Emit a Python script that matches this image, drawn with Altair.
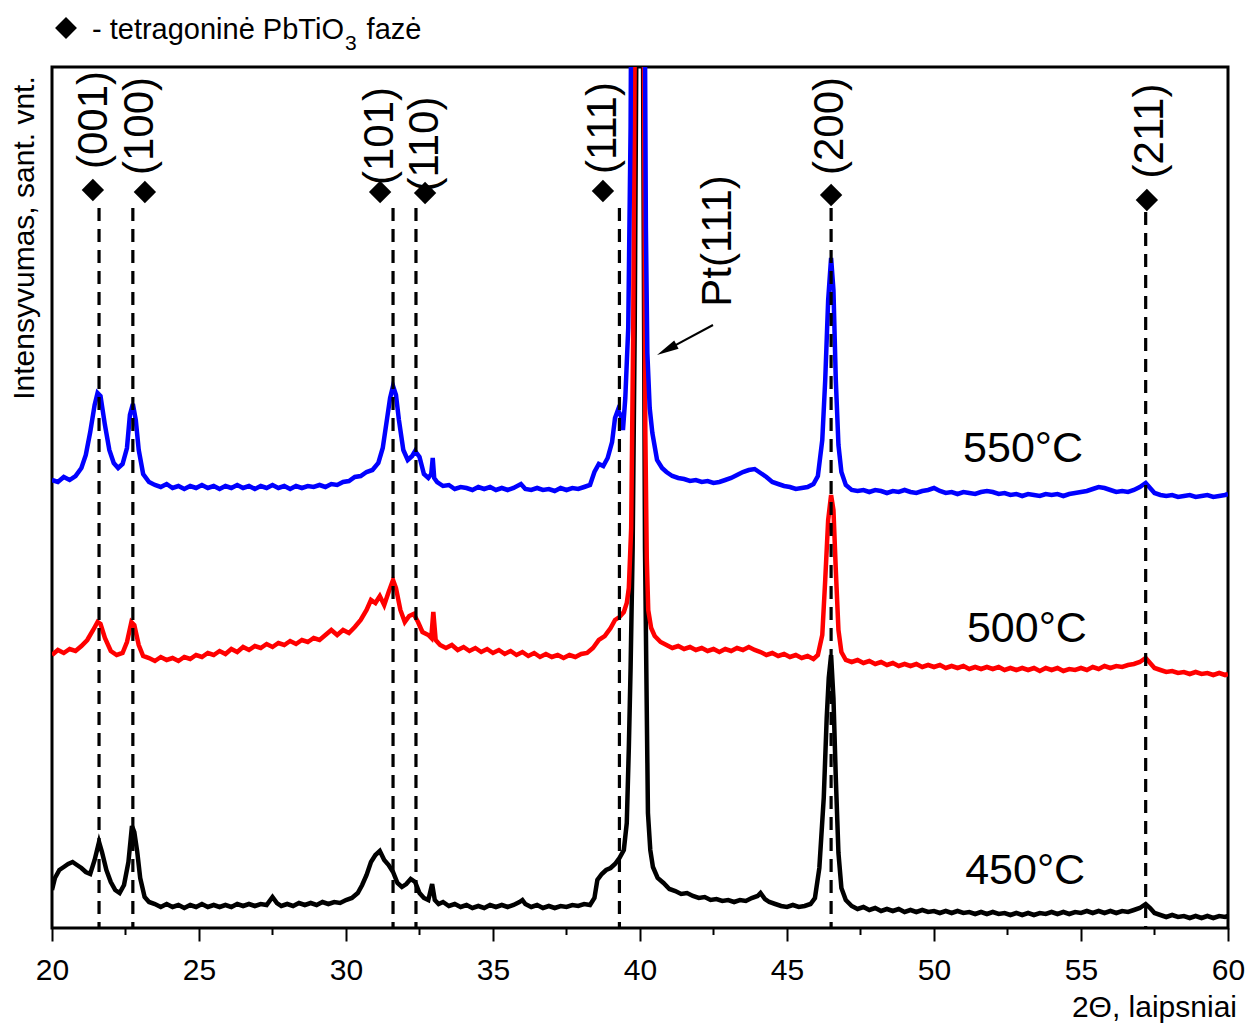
import altair as alt
import pandas as pd

# ---- XRD patterns: (2theta, intensity in arbitrary units) ----
xrd_550 = [(20.0,448),(20.2,446),(20.4,451),(20.6,448),(20.8,452),(21.0,460),(21.15,473),(21.3,496),(21.45,523),(21.55,535),(21.65,532),(21.8,503),(21.95,478),(22.1,465),(22.25,460),(22.4,464),(22.55,480),(22.65,513),(22.75,524),(22.85,508),(22.95,478),(23.1,454),(23.3,446),(23.5,443),(23.7,441),(23.9,444),(24.1,440),(24.3,442),(24.5,439),(24.7,442),(24.9,440),(25.1,443),(25.3,440),(25.5,442),(25.7,439),(25.9,442),(26.1,440),(26.3,443),(26.5,440),(26.7,442),(26.9,439),(27.1,442),(27.3,440),(27.5,443),(27.7,440),(27.9,442),(28.1,439),(28.3,442),(28.5,440),(28.7,442),(28.9,441),(29.1,443),(29.3,441),(29.5,444),(29.7,443),(29.9,446),(30.1,447),(30.3,451),(30.5,452),(30.7,456),(30.9,458),(31.1,465),(31.25,480),(31.4,510),(31.5,530),(31.6,542),(31.7,533),(31.8,508),(31.95,478),(32.1,468),(32.25,472),(32.35,477),(32.5,471),(32.65,454),(32.8,450),(32.9,454),(32.95,470),(33.0,450),(33.1,446),(33.3,442),(33.5,443),(33.7,439),(33.9,441),(34.1,440),(34.3,438),(34.5,441),(34.7,439),(34.9,441),(35.1,438),(35.3,440),(35.5,438),(35.7,440),(35.95,444),(36.1,439),(36.3,438),(36.5,440),(36.7,438),(36.9,439),(37.1,437),(37.3,440),(37.5,438),(37.7,440),(37.9,439),(38.1,441),(38.3,443),(38.45,456),(38.6,464),(38.75,462),(38.9,470),(39.05,486),(39.15,510),(39.25,518),(39.35,512),(39.42,498),(39.5,530),(39.6,600),(39.68,800),(39.75,1200),(39.85,1700),(40.0,1900),(40.1,1500),(40.15,1000),(40.2,700),(40.25,575),(40.33,520),(40.42,495),(40.58,468),(40.75,460),(40.9,456),(41.1,452),(41.3,450),(41.5,449),(41.7,447),(41.9,448),(42.1,446),(42.3,447),(42.5,445),(42.7,446),(42.9,448),(43.1,450),(43.3,453),(43.5,456),(43.7,458),(43.9,459),(44.1,455),(44.3,451),(44.5,446),(44.7,444),(44.9,442),(45.1,441),(45.3,439),(45.5,440),(45.7,441),(45.9,444),(46.05,452),(46.2,488),(46.3,548),(46.4,628),(46.5,670),(46.58,638),(46.66,548),(46.75,483),(46.85,456),(47.0,443),(47.2,438),(47.4,437),(47.6,438),(47.8,436),(48.0,438),(48.2,437),(48.4,435),(48.6,437),(48.8,436),(49.0,438),(49.2,436),(49.4,435),(49.6,437),(49.8,438),(50.0,440),(50.2,437),(50.4,435),(50.6,436),(50.8,434),(51.0,436),(51.2,435),(51.4,434),(51.6,436),(51.8,437),(52.0,436),(52.2,434),(52.4,435),(52.6,433),(52.8,434),(53.0,432),(53.2,434),(53.4,433),(53.6,432),(53.8,434),(54.0,433),(54.2,434),(54.4,432),(54.6,434),(54.8,435),(55.0,436),(55.2,437),(55.4,439),(55.6,441),(55.8,440),(56.0,438),(56.2,436),(56.4,437),(56.6,436),(56.8,438),(57.0,441),(57.2,445),(57.35,440),(57.5,435),(57.7,433),(57.9,432),(58.1,433),(58.3,431),(58.5,432),(58.7,433),(58.9,431),(59.1,432),(59.3,433),(59.5,431),(59.7,432),(59.9,433),(60.0,434)]

xrd_500 = [(20.0,273),(20.2,278),(20.4,275),(20.6,279),(20.8,277),(21.0,282),(21.2,288),(21.4,298),(21.55,306),(21.65,304),(21.8,290),(22.0,277),(22.2,273),(22.4,275),(22.55,286),(22.7,306),(22.8,303),(22.95,283),(23.1,272),(23.3,270),(23.5,267),(23.7,271),(23.9,268),(24.1,270),(24.3,267),(24.5,271),(24.7,269),(24.9,273),(25.1,271),(25.3,275),(25.5,273),(25.7,277),(25.9,274),(26.1,279),(26.3,276),(26.5,281),(26.7,278),(26.9,282),(27.1,280),(27.3,284),(27.5,281),(27.7,285),(27.9,283),(28.1,287),(28.3,284),(28.5,288),(28.7,286),(28.9,290),(29.1,288),(29.3,293),(29.5,298),(29.7,293),(29.9,298),(30.1,295),(30.3,301),(30.5,308),(30.7,318),(30.85,328),(31.0,325),(31.15,332),(31.3,323),(31.45,336),(31.6,348),(31.7,340),(31.85,318),(32.0,306),(32.15,312),(32.3,314),(32.45,306),(32.6,296),(32.8,293),(32.9,290),(32.97,316),(33.05,288),(33.2,283),(33.4,280),(33.6,283),(33.8,278),(34.0,281),(34.2,277),(34.4,280),(34.6,276),(34.8,279),(35.0,275),(35.2,278),(35.4,274),(35.6,277),(35.8,273),(36.0,276),(36.2,272),(36.4,275),(36.6,271),(36.8,274),(37.0,271),(37.2,273),(37.4,270),(37.6,273),(37.8,271),(38.0,274),(38.2,275),(38.4,280),(38.6,288),(38.8,292),(39.0,300),(39.15,308),(39.3,311),(39.45,316),(39.55,325),(39.62,340),(39.7,400),(39.77,600),(39.84,1000),(39.95,1700),(40.05,1700),(40.12,1000),(40.18,500),(40.23,370),(40.28,318),(40.38,300),(40.5,292),(40.7,286),(40.9,283),(41.1,280),(41.3,282),(41.5,279),(41.7,281),(41.9,278),(42.1,280),(42.3,277),(42.5,279),(42.7,276),(42.9,279),(43.1,277),(43.3,280),(43.5,278),(43.7,281),(43.9,278),(44.1,276),(44.3,273),(44.5,275),(44.7,272),(44.9,274),(45.1,271),(45.3,273),(45.5,270),(45.7,272),(45.9,269),(46.05,273),(46.2,293),(46.3,348),(46.4,408),(46.5,433),(46.58,418),(46.66,358),(46.75,298),(46.85,276),(47.0,268),(47.2,266),(47.4,268),(47.6,265),(47.8,267),(48.0,264),(48.2,266),(48.4,263),(48.6,265),(48.8,262),(49.0,264),(49.2,262),(49.4,264),(49.6,261),(49.8,263),(50.0,261),(50.2,263),(50.4,260),(50.6,262),(50.8,260),(51.0,262),(51.2,259),(51.4,261),(51.6,259),(51.8,261),(52.0,259),(52.2,261),(52.4,258),(52.6,260),(52.8,258),(53.0,260),(53.2,258),(53.4,260),(53.6,257),(53.8,260),(54.0,258),(54.2,260),(54.4,257),(54.6,259),(54.8,258),(55.0,260),(55.2,258),(55.4,261),(55.6,259),(55.8,262),(56.0,260),(56.2,262),(56.4,261),(56.6,263),(56.8,264),(57.0,266),(57.2,270),(57.35,265),(57.5,260),(57.7,258),(57.9,256),(58.1,257),(58.3,255),(58.5,256),(58.7,254),(58.9,256),(59.1,254),(59.3,255),(59.5,253),(59.7,255),(59.9,253),(60.0,254)]

xrd_450 = [(20.0,38),(20.1,50),(20.25,58),(20.4,61),(20.55,64),(20.7,66),(20.85,63),(21.0,60),(21.15,56),(21.3,54),(21.45,68),(21.6,86),(21.7,76),(21.85,58),(22.0,46),(22.15,38),(22.3,35),(22.45,43),(22.6,66),(22.72,102),(22.8,96),(22.9,76),(23.0,50),(23.15,31),(23.3,26),(23.5,24),(23.7,21),(23.9,24),(24.1,21),(24.3,23),(24.5,20),(24.7,23),(24.9,21),(25.1,24),(25.3,21),(25.5,23),(25.7,21),(25.9,23),(26.1,21),(26.3,24),(26.5,22),(26.7,24),(26.9,22),(27.1,24),(27.3,23),(27.5,31),(27.65,25),(27.8,22),(28.0,24),(28.2,22),(28.4,25),(28.6,23),(28.8,25),(29.0,23),(29.2,26),(29.4,24),(29.6,26),(29.8,25),(30.0,28),(30.2,30),(30.4,35),(30.55,43),(30.7,53),(30.85,66),(31.0,73),(31.15,77),(31.3,68),(31.45,63),(31.6,56),(31.75,45),(31.9,41),(32.05,44),(32.2,49),(32.35,46),(32.5,35),(32.65,30),(32.8,28),(32.93,44),(33.02,28),(33.15,24),(33.3,26),(33.5,22),(33.7,24),(33.9,21),(34.1,23),(34.3,20),(34.5,22),(34.7,20),(34.9,23),(35.1,21),(35.3,23),(35.5,21),(35.7,23),(35.9,26),(36.0,28),(36.1,24),(36.3,21),(36.5,23),(36.7,20),(36.9,22),(37.1,20),(37.3,22),(37.5,21),(37.7,23),(37.9,22),(38.1,24),(38.3,23),(38.45,30),(38.55,48),(38.7,54),(38.85,58),(39.0,60),(39.15,64),(39.3,70),(39.45,78),(39.55,105),(39.62,180),(39.68,260),(39.75,380),(39.82,600),(39.9,1000),(40.0,1500),(40.1,900),(40.17,380),(40.22,245),(40.27,115),(40.35,78),(40.44,61),(40.6,50),(40.8,45),(41.0,39),(41.2,37),(41.4,34),(41.6,35),(41.8,32),(42.0,30),(42.2,31),(42.4,28),(42.6,29),(42.8,27),(43.0,28),(43.2,26),(43.4,28),(43.6,27),(43.8,30),(44.0,32),(44.1,35),(44.25,29),(44.4,26),(44.6,24),(44.8,22),(45.0,21),(45.2,23),(45.4,21),(45.6,22),(45.8,24),(45.95,30),(46.1,60),(46.25,130),(46.35,210),(46.42,250),(46.5,273),(46.58,230),(46.66,150),(46.75,75),(46.85,40),(47.0,28),(47.2,22),(47.4,19),(47.6,21),(47.8,18),(48.0,20),(48.2,17),(48.4,19),(48.6,17),(48.8,19),(49.0,16),(49.2,18),(49.4,16),(49.6,18),(49.8,16),(50.0,17),(50.2,15),(50.4,17),(50.6,15),(50.8,17),(51.0,15),(51.2,16),(51.4,14),(51.6,16),(51.8,14),(52.0,16),(52.2,14),(52.4,15),(52.6,13),(52.8,15),(53.0,13),(53.2,15),(53.4,13),(53.6,15),(53.8,14),(54.0,16),(54.2,14),(54.4,16),(54.6,14),(54.8,16),(55.0,15),(55.2,17),(55.4,15),(55.6,17),(55.8,15),(56.0,17),(56.2,15),(56.4,17),(56.6,16),(56.8,18),(57.0,20),(57.2,24),(57.35,20),(57.5,15),(57.7,13),(57.9,11),(58.1,13),(58.3,11),(58.5,12),(58.7,10),(58.9,12),(59.1,10),(59.3,12),(59.5,10),(59.7,12),(59.9,11),(60.0,12)]

series_names = ["450°C", "500°C", "550°C"]
series_colors = ["#000000", "#ff0000", "#0000ff"]
series_label_theta = [53.1, 53.16, 53.03]
series_label_int = [57, 299, 479]

# tetragonal PbTiO3 reflections
peak_theta = [21.6, 22.75, 31.6, 32.38, 39.3, 46.5, 57.2]
peak_top = [720, 720, 720, 720, 720, 720, 716]
peak_base = [0, 0, 0, 0, 0, 0, 0]
diamond_theta = [21.39, 23.16, 31.16, 32.69, 38.74, 46.5, 57.24]
diamond_int = [738, 736, 736, 735, 737, 733, 728]
hkl_labels = ["(001)", "(100)", "(101)", "(110)", "(111)", "(200)", "(211)"]
hkl_theta = [21.43, 22.99, 31.16, 32.69, 38.74, 46.46, 57.35]
hkl_int = [808, 802, 792, 784, 800, 802, 797]

minor_ticks = [22.5, 27.5, 32.5, 37.5, 42.5, 47.5, 52.5, 57.5]
major_ticks = [20, 25, 30, 35, 40, 45, 50, 55, 60]

FONT = "Liberation Sans"

xs = alt.Scale(domain=[20, 60], nice=False, zero=False)
ys = alt.Scale(domain=[0, 861], nice=False, zero=False)


def pattern(rows):
    return pd.DataFrame({"theta": [r[0] for r in rows], "intensity": [r[1] for r in rows]})


def line_layer(rows, color, with_axis=False):
    if with_axis:
        xenc = alt.X("theta:Q", scale=xs, axis=alt.Axis(
            values=major_ticks, format="d", title=None, grid=False, domain=False,
            ticks=True, tickSize=13, tickWidth=2, tickColor="black",
            labelFontSize=30, labelFont=FONT, labelColor="black", labelPadding=14,
            labelFlush=False, labelOverlap=False))
    else:
        xenc = alt.X("theta:Q", scale=xs)
    return alt.Chart(pattern(rows)).mark_line(color=color, strokeWidth=4.5, clip=True).encode(
        x=xenc, y=alt.Y("intensity:Q", scale=ys, axis=None))


black_line = line_layer(xrd_450, series_colors[0], with_axis=True)
red_line = line_layer(xrd_500, series_colors[1])
blue_line = line_layer(xrd_550, series_colors[2])

peaks_df = pd.DataFrame({"theta": peak_theta, "top": peak_top, "base": peak_base})
dashed = alt.Chart(peaks_df).mark_rule(color="black", strokeWidth=3.2, strokeDash=[13, 8]).encode(
    x=alt.X("theta:Q", scale=xs), y=alt.Y("top:Q", scale=ys), y2="base:Q")

minor_df = pd.DataFrame({"theta": minor_ticks})
minor = alt.Chart(minor_df).mark_rule(color="black", strokeWidth=2).encode(
    x=alt.X("theta:Q", scale=xs), y=alt.value(861), y2=alt.value(868))

diam_df = pd.DataFrame({"theta": diamond_theta, "intensity": diamond_int})
diamonds = alt.Chart(diam_df).mark_point(shape="diamond", filled=True, size=500, color="black", opacity=1).encode(
    x=alt.X("theta:Q", scale=xs), y=alt.Y("intensity:Q", scale=ys))

hkl_df = pd.DataFrame({"theta": hkl_theta, "intensity": hkl_int, "label": hkl_labels})
hkl_text = alt.Chart(hkl_df).mark_text(angle=270, align="center", baseline="middle", fontSize=42,
                                        font=FONT, color="black").encode(
    x=alt.X("theta:Q", scale=xs), y=alt.Y("intensity:Q", scale=ys), text="label:N")

# Pt(111) annotation with arrow
pt_df = pd.DataFrame({"theta": [42.65], "intensity": [687], "label": ["Pt(111)"]})
pt_text = alt.Chart(pt_df).mark_text(angle=270, align="center", baseline="middle", fontSize=42,
                                      font=FONT, color="black").encode(
    x=alt.X("theta:Q", scale=xs), y=alt.Y("intensity:Q", scale=ys), text="label:N")
arrow_df = pd.DataFrame({"theta": [42.483], "intensity": [603], "theta2": [40.908], "intensity2": [578.2]})
arrow_line = alt.Chart(arrow_df).mark_rule(color="black", strokeWidth=2).encode(
    x=alt.X("theta:Q", scale=xs), y=alt.Y("intensity:Q", scale=ys), x2="theta2:Q", y2="intensity2:Q")
head_df = pd.DataFrame({"theta": [40.908], "intensity": [578.2]})
arrow_head = alt.Chart(head_df).mark_point(shape="M0,-1L0.42,1L-0.42,1Z", filled=True, size=484,
                                            angle=242, color="black", opacity=1).encode(
    x=alt.X("theta:Q", scale=xs), y=alt.Y("intensity:Q", scale=ys))

# series labels
lab_df = pd.DataFrame({"theta": series_label_theta, "intensity": series_label_int, "label": series_names})
series_text = alt.Chart(lab_df).mark_text(align="center", baseline="middle", fontSize=43, font=FONT,
                                           color="black").encode(
    x=alt.X("theta:Q", scale=xs), y=alt.Y("intensity:Q", scale=ys), text="label:N")

# legend line above the plot
leg_diam = alt.Chart(pd.DataFrame({"theta": [20.476], "intensity": [900]})).mark_point(
    shape="diamond", filled=True, size=480, color="black", opacity=1).encode(
    x=alt.X("theta:Q", scale=xs), y=alt.Y("intensity:Q", scale=ys))
leg_df = pd.DataFrame({"theta": [21.36, 29.97, 30.70], "intensity": [898, 884, 898],
                       "label": ["- tetragoninė PbTiO", "3", "fazė"], "size": [29, 21, 29]})
leg_text = alt.Chart(leg_df).mark_text(align="left", baseline="middle", font=FONT, color="black").encode(
    x=alt.X("theta:Q", scale=xs), y=alt.Y("intensity:Q", scale=ys), text="label:N",
    size=alt.Size("size:Q", scale=None, legend=None))

# axis titles
ytitle = alt.Chart(pd.DataFrame({"theta": [19.08], "intensity": [690], "label": ["Intensyvumas, sant. vnt."]})).mark_text(
    angle=270, align="center", baseline="middle", fontSize=30, font=FONT, color="black").encode(
    x=alt.X("theta:Q", scale=xs), y=alt.Y("intensity:Q", scale=ys), text="label:N")
xtitle = alt.Chart(pd.DataFrame({"theta": [60.306], "intensity": [-80], "label": ["2Θ, laipsniai"]})).mark_text(
    align="right", baseline="middle", fontSize=30, font=FONT, color="black").encode(
    x=alt.X("theta:Q", scale=xs), y=alt.Y("intensity:Q", scale=ys), text="label:N")

chart = alt.layer(
    black_line, red_line, blue_line, dashed, minor, diamonds, hkl_text,
    pt_text, arrow_line, arrow_head, series_text, leg_diam, leg_text, ytitle, xtitle
).properties(
    width=1176, height=861,
    padding={"left": 52, "top": 67, "right": 20, "bottom": 96},
    autosize=alt.AutoSizeParams(type="none"),
    background="white",
).configure(font=FONT).configure_view(stroke="black", strokeWidth=3, strokeOpacity=1)

chart.save("out.html", embed_options={"renderer": "svg", "actions": False})
